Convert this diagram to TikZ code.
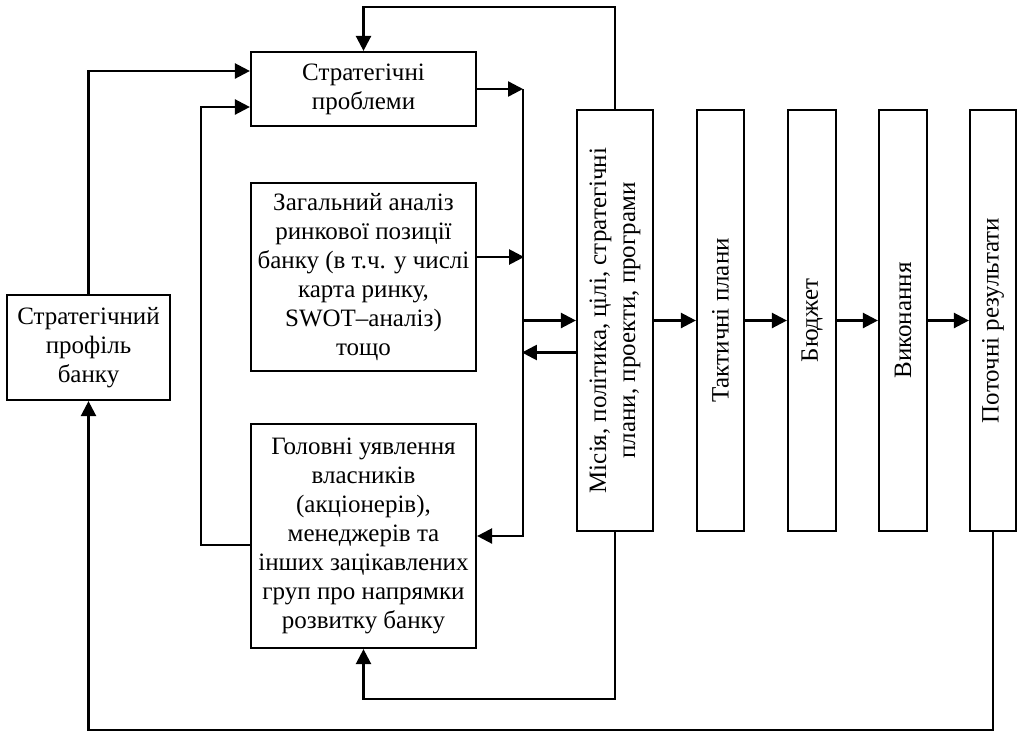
\documentclass[tikz,border=0pt]{standalone}
\usepackage{fontspec}
\setmainfont{Liberation Serif}
\usetikzlibrary{arrows.meta,calc}
\begin{document}
\begin{tikzpicture}[x=1pt,y=-1pt,
  box/.style={draw,line width=2.2pt,inner sep=0pt},
  txt/.style={align=center,font=\fontsize{25}{29}\selectfont,inner sep=0pt},
  conn/.style={line width=2.4pt},
  arr/.style={conn,-{Triangle[length=15pt,width=15pt]}}]
\useasboundingbox (0,0) rectangle (1018,732);
% boxes
\node[box,txt,minimum width=225pt,minimum height=74pt] (sp) at (363.5,89) {Стратегічні\\проблеми};
\node[box,txt,minimum width=225pt,minimum height=188pt] (za) at (363.5,277) {Загальний аналіз\\ринкової позиції\\банку (в т.ч. у числі\\карта ринку,\\SWOT–аналіз)\\тощо};
\node[box,txt,minimum width=225pt,minimum height=224pt] (go) at (363.5,536) {Головні уявлення\\власників\\(акціонерів),\\менеджерів та\\інших зацікавлених\\груп про напрямки\\розвитку банку};
\node[box,txt,minimum width=163pt,minimum height=105pt] (pr) at (88.5,347.5) {Стратегічний\\профіль\\банку};
\node[box,minimum width=76pt,minimum height=421pt] (mi) at (615,320.5) {};
\node[box,minimum width=47pt,minimum height=421pt] (ta) at (720.5,320.5) {};
\node[box,minimum width=48pt,minimum height=421pt] (bu) at (812,320.5) {};
\node[box,minimum width=48pt,minimum height=421pt] (vy) at (903,320.5) {};
\node[box,minimum width=46pt,minimum height=421pt] (po) at (993,320.5) {};
% rotated labels
\node[txt,rotate=90] (mit) at (mi.center) {Місія, політика, цілі, стратегічні\\плани, проекти, програми};
\node[txt,rotate=90] (tat) at (ta.center) {Тактичні плани};
\node[txt,rotate=90] (but) at (bu.center) {Бюджет};
\node[txt,rotate=90] (vyt) at (vy.center) {Виконання};
\node[txt,rotate=90] (pot) at (po.center) {Поточні результати};
% helper coordinates
\coordinate (t) at (0,7);
\coordinate (b1) at (523,89);
\coordinate (b2) at (523,536);
% connectors
\draw[arr] (mi.north) -- (mi.north |- t) -| (sp.north);
\draw[arr] (pr.north) |- ($(sp.west)+(0,-18)$);
\draw[arr] ($(go.west)+(0,9)$) -- ++(-49,0) |- ($(sp.west)+(0,18)$);
\draw[arr] (sp.east) -- (b1);
\draw[arr] (b1) -- (b2) -- (go.east);
\draw[arr] ($(za.east)+(0,-20)$) -- ($(za.east)+(47,-20)$);
\draw[arr] (b1 |- mi.west) -- (mi.west);
\draw[arr] ($(mi.west)+(0,32)$) -- ($(mi.west)+(-54,32)$);
\draw[arr] (mi.south) -- ++(0,167) -| (go.south);
\draw[arr] (po.south) -- ++(0,198) -| (pr.south);
\draw[arr] (mi.east) -- (ta.west);
\draw[arr] (ta.east) -- (bu.west);
\draw[arr] (bu.east) -- (vy.west);
\draw[arr] (vy.east) -- (po.west);
\end{tikzpicture}
\end{document}
